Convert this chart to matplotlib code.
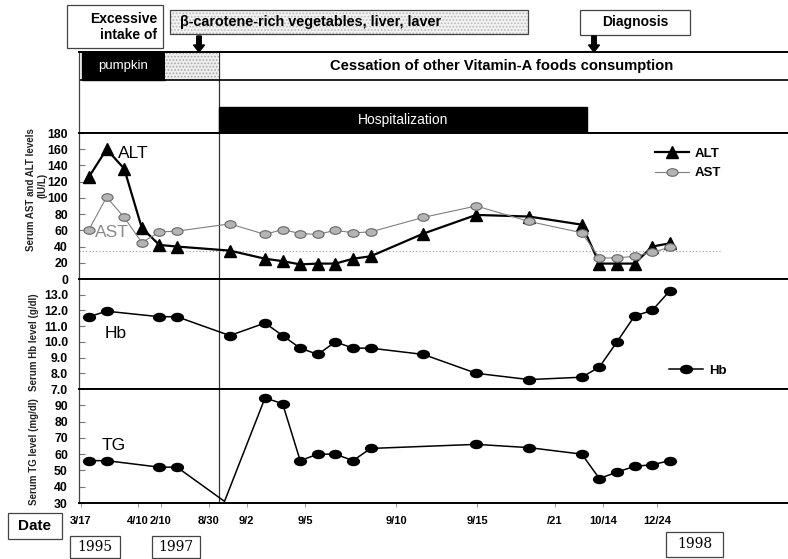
"""
Time course of ALT/AST, Hb and TG in a case of excessive vitamin-A food intake.
"""

import matplotlib
matplotlib.use("Agg")
import matplotlib.pyplot as plt
from matplotlib.patches import Rectangle, FancyArrow
from matplotlib.path import Path
from matplotlib.transforms import Affine2D

plt.rcParams['font.family'] = ['Liberation Sans', 'DejaVu Sans']
plt.rcParams['hatch.linewidth'] = 0.8

# visit slots along the time axis (one step per slot)
liver_visits = [0, 1, 2, 3, 4, 5, 8, 10, 11, 12, 13, 14, 15, 16, 19, 22, 25, 28, 29, 30, 31, 32, 33]
alt_values = [126, 160, 136, 63, 42, 40, 35, 25, 22, 18, 19, 19, 25, 28, 56, 79, 77, 67, 19, 19, 19, 40, 44]
ast_values = [61, 101, 76, 45, 58, 59, 68, 55, 61, 56, 55, 60, 57, 58, 76, 90, 71, 57, 26, 26, 28, 33, 39]

hb_visits = [0, 1, 4, 5, 8, 10, 11, 12, 13, 14, 15, 16, 19, 22, 25, 28, 29, 30, 31, 32, 33]
hb_values = [11.6, 11.95, 11.6, 11.6, 10.4, 11.2, 10.4, 9.6, 9.2, 10.0, 9.6, 9.6, 9.2,
             8.0, 7.6, 7.75, 8.4, 10.0, 11.65, 12.0, 13.25]

tg_visits = [0, 1, 4, 5, 7.7, 10, 11, 12, 13, 14, 15, 16, 22, 25, 28, 29, 30, 31, 32, 33]
tg_values = [56, 56, 52, 52, 31, 94.5, 91, 56, 60, 60, 56, 63.5, 66, 64, 60, 45, 49, 52.5, 53.5, 56]

date_labels = ['3/17', '4/10', '2/10', '8/30', '9/2', '9/5', '9/10', '9/15', '/21', '10/14', '12/24']
date_ticks = [-0.45, 2.78, 4.09, 6.79, 8.95, 12.27, 17.44, 22.07, 26.48, 29.2, 32.27]

W, H = 788, 559
PX0, PXSTEP = 89, 17.6
CUT = 7.4  # start of cessation / hospitalization


def to_idx(px):
    return (px - PX0) / PXSTEP


def fig_box(top, bottom, left=79, right=788):
    return [left / W, 1 - bottom / H, (right - left) / W, (bottom - top) / H]


def pix(x, y):
    return x / W, 1 - y / H


ellipse = Path.unit_circle().transformed(Affine2D().scale(1.0, 0.68))
TICK_FONT = dict(fontsize=8.8, fontweight='bold')

fig = plt.figure(figsize=(W / 100, H / 100), dpi=100)

ov = fig.add_axes([0, 0, 1, 1], zorder=0)
ov.set_xlim(0, W)
ov.set_ylim(H, 0)
ov.axis('off')

band = fig.add_axes(fig_box(52, 133), zorder=1)
ax1 = fig.add_axes(fig_box(133, 279), sharex=band, zorder=1)
ax2 = fig.add_axes(fig_box(279, 389), sharex=band, zorder=1)
ax3 = fig.add_axes(fig_box(389, 503), sharex=band, zorder=1)

for ax in (band, ax1, ax2, ax3):
    ax.spines['right'].set_visible(False)
    ax.spines['left'].set_color('#444')
    ax.spines['left'].set_linewidth(0.9)
    for side in ('top', 'bottom'):
        ax.spines[side].set_linewidth(1.4)
    ax.axvline(CUT, color='#333', lw=0.9, zorder=1)
    ax.tick_params(axis='x', bottom=False, labelbottom=False)
    ax.tick_params(axis='y', direction='in', length=4, width=0.8, color='#777', pad=8)

band.set_xlim(to_idx(79), to_idx(788))

# ---- event band ----
band.set_ylim(0, 81)
band.set_yticks([])
band.axhline(53, color='black', lw=1.2)
band.add_patch(Rectangle((to_idx(82), 53), to_idx(165) - to_idx(82), 28, color='black'))
band.add_patch(Rectangle((to_idx(165), 53), CUT - to_idx(165), 28, facecolor='#eeeeee',
                         edgecolor='#a8a8a8', hatch='.....', lw=0))
band.add_patch(Rectangle((CUT, 0), to_idx(587) - CUT, 26, color='black'))
band.text(to_idx(123), 67, 'pumpkin', color='white', fontsize=9.5, ha='center', va='center')
band.text(to_idx(502), 67, 'Cessation of other Vitamin-A foods consumption', fontsize=10.6,
          fontweight='bold', ha='center', va='center')
band.text((CUT + to_idx(587)) / 2, 13, 'Hospitalization', color='white', fontsize=10,
          ha='center', va='center')

# ---- ALT / AST ----
ax1.set_ylim(0, 180)
ax1.set_yticks(range(0, 181, 20), [str(v) for v in range(0, 181, 20)], **TICK_FONT)
ax1.axhline(35, xmin=0, xmax=(720 - 79) / (788 - 79), color='#999', lw=0.8, ls=(0, (1, 2)))
ax1.plot(liver_visits, alt_values, color='black', lw=1.6, marker='^', ms=8, label='ALT', zorder=3)
ax1.plot(liver_visits, ast_values, color='#808080', lw=0.8, marker=ellipse, ms=8,
         mfc='#b4b4b4', mec='#666', mew=0.8, label='AST', zorder=4)
ax1.legend(loc='upper left', bbox_to_anchor=pix(648, 141), bbox_transform=fig.transFigure,
           frameon=False, handlelength=2.6, handletextpad=0.4, labelspacing=0.55,
           borderpad=0, prop={'weight': 'bold', 'size': 9.5})

# ---- Hb ----
ax2.set_ylim(7, 14)
hb_ticks = [7, 8, 9, 10, 11, 12, 13]
ax2.set_yticks(hb_ticks, [f'{v:.1f}' for v in hb_ticks], **TICK_FONT)
ax2.plot(hb_visits, hb_values, color='black', lw=1.1, marker=ellipse, ms=8.5, label='Hb')
ax2.legend(loc='upper left', bbox_to_anchor=pix(662, 358), bbox_transform=fig.transFigure,
           frameon=False, handlelength=2.6, handletextpad=0.5, borderpad=0,
           prop={'weight': 'bold', 'size': 9.5})

# ---- TG ----
ax3.set_ylim(30, 100)
ax3.set_yticks(range(30, 91, 10), [str(v) for v in range(30, 91, 10)], **TICK_FONT)
ax3.plot(tg_visits, tg_values, color='black', lw=1.1, marker=ellipse, ms=8.5,
         markevery=[i for i, v in enumerate(tg_visits) if v != 7.7])
ax3.set_xticks(date_ticks, date_labels, fontsize=8, fontweight='bold')
ax3.tick_params(axis='x', bottom=True, labelbottom=True, direction='out', length=3,
                width=0.6, color='#888', pad=6)

# panel names and axis titles
fig.text(*pix(118, 153), 'ALT', fontsize=12.5, va='center')
fig.text(*pix(95, 232), 'AST', fontsize=12.5, va='center', color='#8a8a8a')
fig.text(*pix(105, 334), 'Hb', fontsize=12.5, va='center')
fig.text(*pix(102, 446), 'TG', fontsize=12.5, va='center')

fig.text(*pix(31, 190), 'Serum AST and ALT levels', rotation=90, fontsize=7,
         fontweight='bold', ha='center', va='center', color='#222')
fig.text(*pix(42, 185), '(IU/L)', rotation=90, fontsize=7, fontweight='bold',
         ha='center', va='center', color='#222')
fig.text(*pix(34, 342), 'Serum Hb level (g/dl)', rotation=90, fontsize=7,
         fontweight='bold', ha='center', va='center', color='#222')
fig.text(*pix(34, 452), 'Serum TG level (mg/dl)', rotation=90, fontsize=7,
         fontweight='bold', ha='center', va='center', color='#222')

# ---- boxes and arrows above and below the panels ----
box_kw = dict(fill=False, edgecolor='#444', lw=0.9)
ov.add_patch(Rectangle((67, 5), 96, 43, **box_kw))
ov.text(157, 27, 'Excessive\nintake of', fontsize=10, fontweight='bold', ha='right',
        va='center', linespacing=1.15)
ov.add_patch(Rectangle((170, 10), 358, 24, facecolor='#f2f2f2', edgecolor='#b8b8b8',
                       hatch='.....', lw=0))
ov.add_patch(Rectangle((170, 10), 358, 24, **box_kw))
ov.text(180, 22, 'β-carotene-rich vegetables, liver, laver', fontsize=10.4,
        fontweight='bold', ha='left', va='center')
ov.add_patch(Rectangle((580, 10), 110, 25, **box_kw))
ov.text(635, 22, 'Diagnosis', fontsize=10, fontweight='bold', ha='center', va='center')
for ax_x in (199, 594):
    ov.add_patch(FancyArrow(ax_x, 36, 0, 16, width=4.5, head_width=11, head_length=7,
                            length_includes_head=True, color='black'))

ov.add_patch(Rectangle((8, 513), 54, 26, **box_kw))
ov.text(35, 526, 'Date', fontsize=11, fontweight='bold', ha='center', va='center')
for x0, w, y0, h, year in [(70, 50, 536, 22, '1995'), (152, 48, 536, 22, '1997'),
                           (666, 57, 532, 25, '1998')]:
    ov.add_patch(Rectangle((x0, y0), w, h, **box_kw))
    ov.text(x0 + w / 2, y0 + h / 2, year, fontsize=10, family='DejaVu Serif',
            ha='center', va='center')

fig.savefig('out.png', dpi=100)
